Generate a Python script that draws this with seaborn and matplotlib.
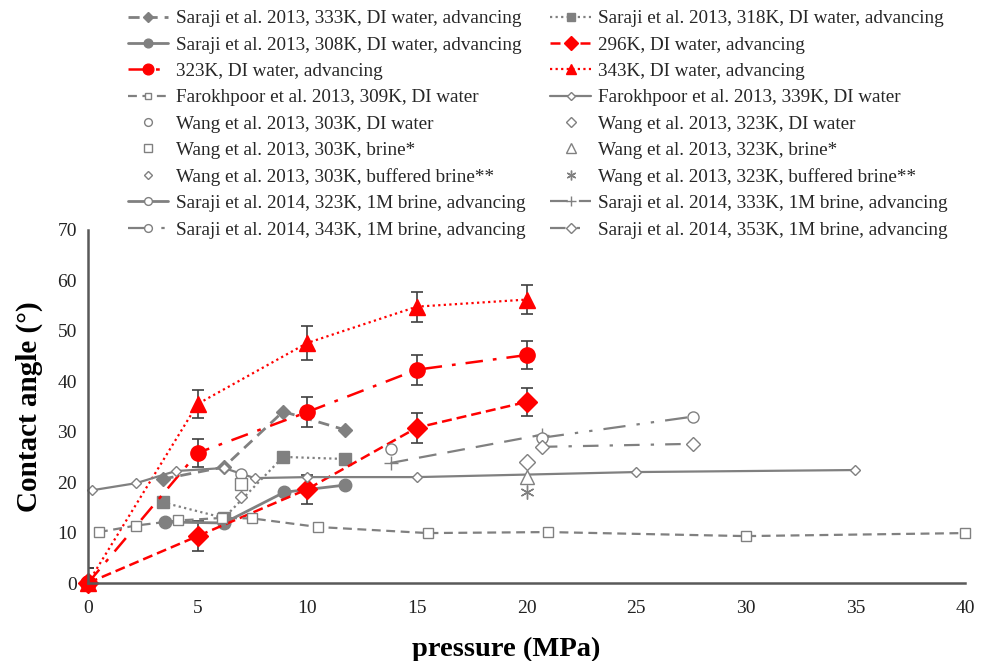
import matplotlib
matplotlib.use("Agg")
import matplotlib.pyplot as plt
import seaborn as sns
import numpy as np

sns.set_theme(style="white")
plt.rcParams['font.family'] = ['Liberation Serif', 'DejaVu Serif']

# ---- data ----
s13_333_x = [3.4, 6.2, 8.9, 11.7]
s13_333_y = [20.6, 23.0, 34.0, 30.4]
s13_318_x = [3.4, 6.2, 8.9, 11.7]
s13_318_y = [16.0, 12.9, 25.0, 24.6]
s13_308_x = [3.5, 6.2, 8.95, 11.7]
s13_308_y = [12.1, 11.9, 18.0, 19.4]

red_x = [0, 5, 10, 15, 20]
k296_y = [0, 9.3, 18.6, 30.8, 35.9]
k296_err = [3.0, 2.9, 2.9, 3.0, 2.8]
k323_y = [0, 25.8, 33.9, 42.3, 45.2]
k323_err = [3.0, 2.8, 3.0, 3.0, 2.8]
k343_y = [0, 35.5, 47.6, 54.8, 56.2]
k343_err = [3.0, 2.8, 3.3, 3.0, 2.8]

f309_x = [0.5, 2.2, 4.1, 6.1, 7.5, 10.5, 15.5, 21, 30, 40]
f309_y = [10.1, 11.4, 12.4, 12.9, 12.8, 11.1, 9.9, 10.1, 9.3, 9.9]
f339_x = [0.2, 2.2, 4.0, 6.2, 7.6, 10, 15, 25, 35]
f339_y = [18.4, 19.8, 22.2, 22.8, 20.8, 21.0, 21.0, 22.0, 22.4]

w303_di_x, w303_di_y = [7.0], [21.6]
w303_br_x, w303_br_y = [7.0], [19.7]
w303_bb_x, w303_bb_y = [7.0], [17.1]
w323_di_x, w323_di_y = [20.0], [24.0]
w323_br_x, w323_br_y = [20.0], [21.0]
w323_bb_x, w323_bb_y = [20.0], [18.0]

s14_323_x, s14_323_y = [13.8], [26.5]
s14_333_x, s14_333_y = [13.8, 20.7], [23.8, 29.4]
s14_343_x, s14_343_y = [20.7, 27.6], [28.8, 33.0]
s14_353_x, s14_353_y = [20.7, 27.6], [27.0, 27.6]

xticks = [0, 5, 10, 15, 20, 25, 30, 35, 40]
yticks = [0, 10, 20, 30, 40, 50, 60, 70]

GRAY = '#808080'
RED = '#FF0000'
ERRC = '#404040'

fig = plt.figure(figsize=(9.81, 6.61), dpi=100)
ax = fig.add_axes([88/981, 1-583/661, (965-88)/981, (583-230)/661])

def line(x, y, label, color=GRAY, ls='-', marker='o', ms=6, mfc=None, lw=1.6, mew=1.0):
    sns.lineplot(x=x, y=y, ax=ax, color=color, linestyle=ls, marker=marker,
                 markersize=ms, markerfacecolor=(mfc if mfc is not None else color),
                 markeredgecolor=color, markeredgewidth=mew, linewidth=lw,
                 label=label, sort=False, clip_on=False, estimator=None)

# error bars for red series
for yv, ev in [(k296_y, k296_err), (k323_y, k323_err), (k343_y, k343_err)]:
    ax.errorbar(red_x, yv, yerr=ev, fmt='none', ecolor=ERRC, elinewidth=1.2,
                capsize=4, capthick=1.2, zorder=1)

line(s13_333_x, s13_333_y, 'Saraji et al. 2013, 333K, DI water, advancing', ls=(0, (4, 2.5)), marker='D', ms=7, lw=2)
line(s13_318_x, s13_318_y, 'Saraji et al. 2013, 318K, DI water, advancing', ls=(0, (1, 1.5)), marker='s', ms=9, lw=1.6)
line(s13_308_x, s13_308_y, 'Saraji et al. 2013, 308K, DI water, advancing', ls='-', marker='o', ms=9, lw=2)
line(red_x, k296_y, '296K, DI water, advancing', color=RED, ls=(0, (4, 2)), marker='D', ms=10, lw=1.8)
line(red_x, k323_y, '323K, DI water, advancing', color=RED, ls=(0, (7, 4, 1.5, 4)), marker='o', ms=11, lw=1.8)
line(red_x, k343_y, '343K, DI water, advancing', color=RED, ls=(0, (1, 1.5)), marker='^', ms=11, lw=1.6)
line(f309_x, f309_y, 'Farokhpoor et al. 2013, 309K, DI water', ls=(0, (4, 2.5)), marker='s', ms=7, mfc='white', lw=1.6)
line(f339_x, f339_y, 'Farokhpoor et al. 2013, 339K, DI water', ls='-', marker='D', ms=5.5, mfc='white', lw=1.6)
line(w303_di_x, w303_di_y, 'Wang et al. 2013, 303K, DI water', ls='none', marker='o', ms=8, mfc='white')
line(w323_di_x, w323_di_y, 'Wang et al. 2013, 323K, DI water', ls='none', marker='D', ms=8, mfc='white')
line(w303_br_x, w303_br_y, 'Wang et al. 2013, 303K, brine*', ls='none', marker='s', ms=8, mfc='white')
line(w323_br_x, w323_br_y, 'Wang et al. 2013, 323K, brine*', ls='none', marker='^', ms=10, mfc='white')
line(w303_bb_x, w303_bb_y, 'Wang et al. 2013, 303K, buffered brine**', ls='none', marker='D', ms=6, mfc='white')
line(w323_bb_x, w323_bb_y, 'Wang et al. 2013, 323K, buffered brine**', ls='none', marker=(6, 2, 0), ms=10)
line(s14_323_x, s14_323_y, 'Saraji et al. 2014, 323K, 1M brine, advancing', ls='-', marker='o', ms=8, mfc='white', lw=2)
line(s14_333_x, s14_333_y, 'Saraji et al. 2014, 333K, 1M brine, advancing', ls=(0, (8, 5)), marker='+', ms=10, lw=1.6)
line(s14_343_x, s14_343_y, 'Saraji et al. 2014, 343K, 1M brine, advancing', ls=(0, (10, 5, 1.5, 5, 1.5, 5)), marker='o', ms=8, mfc='white', lw=1.6)
line(s14_353_x, s14_353_y, 'Saraji et al. 2014, 353K, 1M brine, advancing', ls=(0, (7, 5, 1.5, 5)), marker='D', ms=7, mfc='white', lw=1.6)

handles, labels = ax.get_legend_handles_labels()
left_order = [0, 2, 4, 6, 8, 10, 12, 14, 16]
right_order = [1, 3, 5, 7, 9, 11, 13, 15, 17]
order = left_order + right_order
ax.legend([handles[i] for i in order], [labels[i] for i in order], ncol=2,
          loc='upper left', bbox_to_anchor=(128/981, 1-10/661), bbox_transform=fig.transFigure,
          frameon=False, fontsize=13.8, handlelength=2.1, handletextpad=0.4,
          columnspacing=1.3, labelspacing=0.465, borderaxespad=0, borderpad=0,
          markerscale=0.7)

ax.set_xlim(0, 40)
ax.set_ylim(0, 70)
ax.set_xticks(xticks)
ax.set_yticks(yticks)
ax.tick_params(axis='y', length=0, labelsize=14, colors='#222222', pad=8)
ax.tick_params(axis='x', length=0, labelsize=14, colors='#222222', pad=12)
for s in ['top', 'right']:
    ax.spines[s].set_visible(False)
for s in ['left', 'bottom']:
    ax.spines[s].set_color('#595959')
    ax.spines[s].set_linewidth(1.8)
ax.set_xlabel('pressure (MPa)', fontsize=20.5, fontweight='bold', color='black', labelpad=10)
ax.xaxis.set_label_coords(0.477, -0.152)
ax.set_ylabel('Contact angle (°)', fontsize=21, fontweight='bold', color='black', labelpad=10)
ax.grid(False)

fig.savefig('out.png', dpi=100)
